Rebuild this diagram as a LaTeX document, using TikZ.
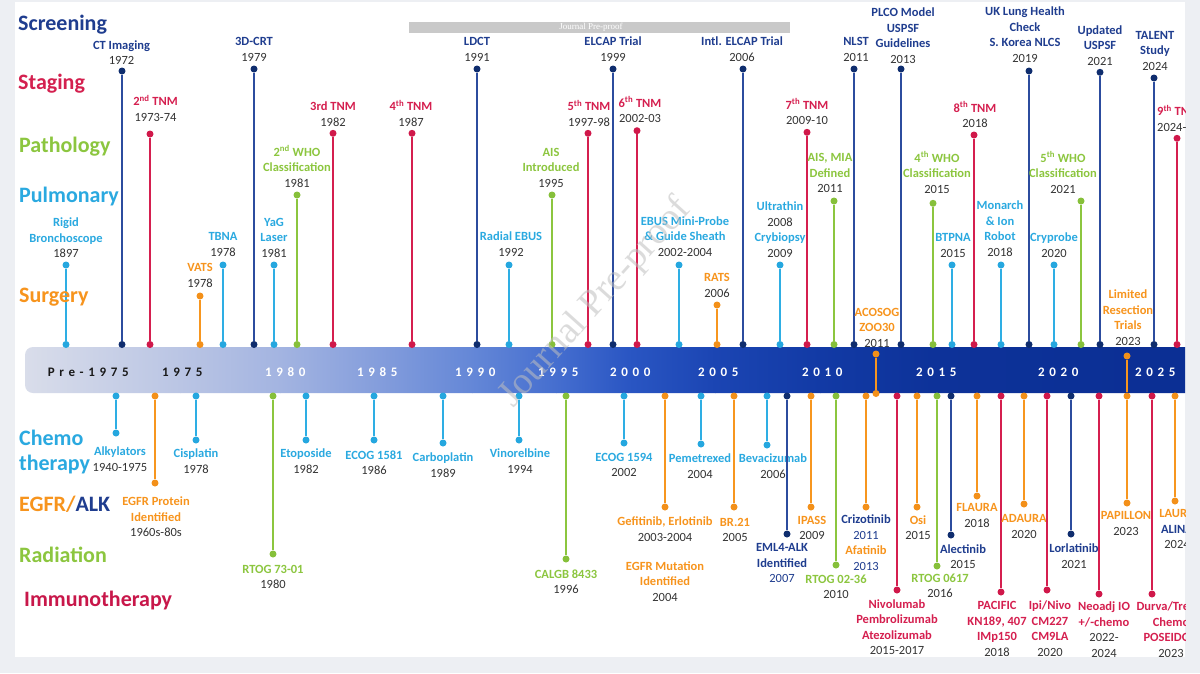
\documentclass[tikz,border=0pt]{standalone}
\usepackage{fontspec}
\setmainfont{Carlito}
\newfontfamily\axisfont{Carlito}[LetterSpace=36]
\newfontfamily\wmfont{Liberation Serif}
\definecolor{bgout}{HTML}{EDEFF3}
\definecolor{yrc}{HTML}{333333}
\definecolor{cNt}{HTML}{1F3D8F}\definecolor{cNl}{HTML}{2C4C9E}\definecolor{cNd}{HTML}{0F2D6E}
\definecolor{cRt}{HTML}{D51F4F}\definecolor{cRl}{HTML}{D51F4F}\definecolor{cRd}{HTML}{D0184A}
\definecolor{cGt}{HTML}{8CC63F}\definecolor{cGl}{HTML}{8CC63F}\definecolor{cGd}{HTML}{86C03A}
\definecolor{cCt}{HTML}{2AA9E0}\definecolor{cCl}{HTML}{2EAEE4}\definecolor{cCd}{HTML}{25A7DF}
\definecolor{cOt}{HTML}{F7941D}\definecolor{cOl}{HTML}{F7961F}\definecolor{cOd}{HTML}{F39019}
\definecolor{catR}{HTML}{D4204F}\definecolor{catI}{HTML}{C8174A}
\definecolor{b0}{HTML}{D9DDEA}\definecolor{b1}{HTML}{BAC5E4}\definecolor{b2}{HTML}{A3B4E1}
\definecolor{b3}{HTML}{859EDC}\definecolor{b4}{HTML}{6487D7}\definecolor{b5}{HTML}{456ECF}
\definecolor{b6}{HTML}{2A56C3}\definecolor{b7}{HTML}{1B45B3}\definecolor{b8}{HTML}{123AA5}
\definecolor{b9}{HTML}{0D3299}\definecolor{b10}{HTML}{0B2E93}
\newcommand\yrs[1]{{\mdseries\color{yrc}#1}}
\newcommand\yrn[1]{{\mdseries\color{cNt}#1}}
\newcommand\topev[7]{%
  \node[dotn,fill=c#4d] (#1a) at (#2,#3) {};
  \node[dotn,fill=c#4d] (#1b) at (#2,344.5) {};
  \draw[stemln,draw=c#4l] (#1a) -- (#1b);
  \node[lbl,text=c#4t,anchor=south] (#1l) at (#5,#6+4) {#7};}
\newcommand\botev[7]{%
  \node[dotn,fill=c#4d] (#1a) at (#2,396) {};
  \node[dotn,fill=c#4d] (#1b) at (#2,#3) {};
  \draw[stemln,draw=c#4l] (#1a) -- (#1b);
  \node[lbl,text=c#4t,anchor=north] (#1l) at (#5,#6-4.7) {#7};}
\begin{document}
\begin{tikzpicture}[x=1pt,y=-1pt,
  dotn/.style={circle,inner sep=0pt,minimum size=7pt,draw=none},
  stemln/.style={line width=2pt},
  lbl/.style={font=\fontsize{12.5}{15.5}\selectfont\bfseries,align=center,inner sep=0pt},
  cat/.style={font=\fontsize{22}{26}\selectfont\bfseries,anchor=base west,inner sep=0pt},
  axy/.style={font=\axisfont\bfseries\fontsize{13}{15}\selectfont,anchor=base,inner sep=0pt}]
\useasboundingbox (0,0) rectangle (1200,673);
\fill[bgout] (0,0) rectangle (1200,673);
\fill[white] (15,2) rectangle (1185,657);
\begin{scope}
\clip (15,2) rectangle (1185,657);
% axis bar
\begin{scope}
\clip[rounded corners=8pt] (25,347) rectangle (1220,393);
\shade[left color=b0,right color=b1] (24,347) rectangle (180.5,393);
\shade[left color=b1,right color=b2] (180,347) rectangle (280.5,393);
\shade[left color=b2,right color=b3] (280,347) rectangle (375.5,393);
\shade[left color=b3,right color=b4] (375,347) rectangle (472.5,393);
\shade[left color=b4,right color=b5] (472,347) rectangle (556.5,393);
\shade[left color=b5,right color=b6] (556,347) rectangle (628.5,393);
\shade[left color=b6,right color=b7] (628,347) rectangle (715.5,393);
\shade[left color=b7,right color=b8] (715,347) rectangle (820.5,393);
\shade[left color=b8,right color=b9] (820,347) rectangle (934.5,393);
\shade[left color=b9,right color=b10] (934,347) rectangle (1221,393);
\end{scope}
\node[axy,text=black!90] (y0) at (88.3,376.5) {Pre-1975};
\node[axy,text=black!90] (y1) at (182.3,376.5) {1975};
\node[axy,text=white] (y2) at (285.3,376.5) {1980};
\node[axy,text=white] (y3) at (377.3,376.5) {1985};
\node[axy,text=white] (y4) at (475.3,376.5) {1990};
\node[axy,text=white] (y5) at (558.3,376.5) {1995};
\node[axy,text=white] (y6) at (630.3,376.5) {2000};
\node[axy,text=white] (y7) at (718.3,376.5) {2005};
\node[axy,text=white] (y8) at (822.3,376.5) {2010};
\node[axy,text=white] (y9) at (936.3,376.5) {2015};
\node[axy,text=white] (y10) at (1058.3,376.5) {2020};
\node[axy,text=white] (y11) at (1155.3,376.5) {2025};
% top events
\topev{t1}{66}{265}{C}{66}{254}{Rigid\\Bronchoscope\\\yrs{1897}}
\topev{t2}{122}{71}{N}{121.5}{61}{CT Imaging\\\yrs{1972}}
\topev{t3}{150}{134}{R}{155.5}{117.3}{2\textsuperscript{nd} TNM\\\yrs{1973-74}}
\topev{t4}{200}{296}{O}{200}{283.3}{VATS\\\yrs{1978}}
\topev{t5}{223}{265}{C}{223}{252.3}{TBNA\\\yrs{1978}}
\topev{t6}{254}{69}{N}{254}{57.3}{3D-CRT\\\yrs{1979}}
\topev{t7}{274}{265}{C}{274}{253.3}{YaG\\Laser\\\yrs{1981}}
\topev{t8}{297}{195}{G}{297}{183.3}{2\textsuperscript{nd} WHO\\Classification\\\yrs{1981}}
\topev{t9}{333}{133.3}{R}{333}{122.3}{3rd TNM\\\yrs{1982}}
\topev{t10}{412}{133.3}{R}{411}{122.3}{4\textsuperscript{th} TNM\\\yrs{1987}}
\topev{t11}{477}{69}{N}{477}{57.3}{LDCT\\\yrs{1991}}
\topev{t12}{509}{265}{C}{511}{252.3}{Radial EBUS\\\yrs{1992}}
\topev{t13}{552}{195}{G}{551}{183.3}{AIS\\Introduced\\\yrs{1995}}
\topev{t14}{588}{133.3}{R}{589}{122.3}{5\textsuperscript{th} TNM\\\yrs{1997-98}}
\topev{t15}{613}{69}{N}{613}{57.3}{ELCAP Trial\\\yrs{1999}}
\topev{t16}{637}{130.7}{R}{640}{119}{6\textsuperscript{th} TNM\\\yrs{2002-03}}
\topev{t17}{679}{265}{C}{685}{252.3}{EBUS Mini-Probe\\\& Guide Sheath\\\yrs{2002-2004}}
\topev{t18}{717}{305}{O}{717}{293.3}{RATS\\\yrs{2006}}
\topev{t19}{743}{69}{N}{742}{57.3}{Intl. ELCAP Trial\\\yrs{2006}}
\topev{t20}{780}{265}{C}{780}{253.3}{Ultrathin\\\yrs{2008}\\Crybiopsy\\\yrs{2009}}
\topev{t21}{807}{132.3}{R}{807}{121}{7\textsuperscript{th} TNM\\\yrs{2009-10}}
\topev{t22}{834}{201}{G}{830}{189}{AIS, MIA\\Defined\\\yrs{2011}}
\topev{t23}{854}{69}{N}{856}{57.3}{NLST\\\yrs{2011}}
\topev{t24}{901}{69}{N}{903}{59.3}{PLCO Model\\USPSF\\Guidelines\\\yrs{2013}}
\topev{t25}{933}{203.3}{G}{937}{189.3}{4\textsuperscript{th} WHO\\Classification\\\yrs{2015}}
\topev{t26}{952}{265}{C}{953}{253.3}{BTPNA\\\yrs{2015}}
\topev{t27}{974}{135}{R}{975}{124}{8\textsuperscript{th} TNM\\\yrs{2018}}
\topev{t28}{1001}{265}{C}{1000}{252.3}{Monarch\\\& Ion\\Robot\\\yrs{2018}}
\topev{t29}{1029}{71}{N}{1025}{58.3}{UK Lung Health\\Check\\S. Korea NLCS\\\yrs{2019}}
\topev{t30}{1054}{265}{C}{1054}{253.3}{Cryprobe\\\yrs{2020}}
\topev{t31}{1081}{201}{G}{1063}{189.3}{5\textsuperscript{th} WHO\\Classification\\\yrs{2021}}
\topev{t32}{1100}{72.3}{N}{1100}{61.7}{Updated\\USPSF\\\yrs{2021}}
\topev{t33}{1154}{78}{N}{1155}{66.7}{TALENT\\Study\\\yrs{2024}}
\node[dotn,fill=cRd] (t34a) at (1177,138.3) {};
\node[dotn,fill=cRd] (t34b) at (1177,344.5) {};
\draw[stemln,draw=cRl] (t34a) -- (t34b);
\node[lbl,text=cRt,align=left,anchor=south west] (t34l) at (1157,131.7) {9\textsuperscript{th} TNM\\\yrs{2024-}};
% ACOSOG
\node[dotn,fill=cOd] (acA) at (876,354) {};
\node[dotn,fill=cOd] (acB) at (876,393.5) {};
\draw[stemln,draw=cOl] (acA) -- (acB);
\node[lbl,text=cOt,anchor=south] (acL) at (877,347.3) {ACOSOG\\ZOO30\\\yrs{2011}};
% Limited resection / PAPILLON
\node[dotn,fill=cOd] (lrA) at (1127,356) {};
\node[dotn,fill=cOd] (lrB) at (1127,396) {};
\node[dotn,fill=cOd] (lrC) at (1127,503) {};
\draw[stemln,draw=cOl] (lrA) -- (lrB);
\draw[stemln,draw=cOl] (lrB) -- (lrC);
\node[lbl,text=cOt,anchor=south] (lrL) at (1128,345.7) {Limited\\Resection\\Trials\\\yrs{2023}};
\node[lbl,text=cOt,anchor=north] (papL) at (1126,511.3) {PAPILLON\\\yrs{2023}};
% bottom events
\botev{b1}{116}{433}{C}{120}{451.7}{Alkylators\\\yrs{1940-1975}}
\botev{b2}{155}{483}{O}{156}{501.7}{EGFR Protein\\Identified\\\yrs{1960s-80s}}
\botev{b3}{196}{440}{C}{196}{453.3}{Cisplatin\\\yrs{1978}}
\botev{b4}{273}{554}{G}{273}{569.3}{RTOG 73-01\\\yrs{1980}}
\botev{b5}{306}{440}{C}{306}{453.7}{Etoposide\\\yrs{1982}}
\botev{b6}{374}{440}{C}{374}{455}{ECOG 1581\\\yrs{1986}}
\botev{b7}{443}{443}{C}{443}{457.7}{Carboplatin\\\yrs{1989}}
\botev{b8}{519}{440}{C}{520}{453.7}{Vinorelbine\\\yrs{1994}}
\botev{b9}{566}{559}{G}{566}{574.3}{CALGB 8433\\\yrs{1996}}
\botev{b10}{624}{443}{C}{624}{457.7}{ECOG 1594\\\yrs{2002}}
\botev{b11}{665}{507}{O}{665}{521.7}{Gefitinib, Erlotinib\\\yrs{2003-2004}}
\node[lbl,text=cOt,anchor=north] (egfrm) at (665,561.3) {EGFR Mutation\\Identified\\\yrs{2004}};
\botev{b12}{701}{444}{C}{700}{458.3}{Pemetrexed\\\yrs{2004}}
\botev{b13}{734}{507}{O}{735}{522.3}{BR.21\\\yrs{2005}}
\botev{b14}{767}{445}{C}{773}{458.3}{Bevacizumab\\\yrs{2006}}
\botev{b15}{787}{534}{N}{782}{548.3}{EML4-ALK\\Identified\\\yrn{2007}}
\botev{b16}{811}{507}{O}{812}{520.7}{IPASS\\\yrs{2009}}
\botev{b17}{836}{565}{G}{836}{579}{RTOG 02-36\\\yrs{2010}}
\botev{b18}{866}{507}{O}{866}{519.3}{{\color{cNt}Crizotinib}\\\yrn{2011}\\Afatinib\\\yrn{2013}}
\botev{b19}{897}{590}{R}{897}{604}{Nivolumab\\Pembrolizumab\\Atezolizumab\\\yrs{2015-2017}}
\botev{b20}{917}{507}{O}{918}{520}{Osi\\\yrs{2015}}
\botev{b21}{937}{566}{G}{940}{578.3}{RTOG 0617\\\yrs{2016}}
\botev{b22}{951}{535}{N}{963}{549}{Alectinib\\\yrs{2015}}
\botev{b23}{977}{496}{O}{977}{508.3}{FLAURA\\\yrs{2018}}
\botev{b24}{1001}{592}{R}{997}{606}{PACIFIC\\KN189, 407\\IMp150\\\yrs{2018}}
\botev{b25}{1024}{504}{O}{1024}{519.3}{ADAURA\\\yrs{2020}}
\botev{b26}{1047}{590}{R}{1050}{605.7}{Ipi/Nivo\\CM227\\CM9LA\\\yrs{2020}}
\botev{b27}{1071}{534}{N}{1074}{548.3}{Lorlatinib\\\yrs{2021}}
\botev{b28}{1099}{594}{R}{1104}{606.7}{Neoadj IO\\+/-chemo\\\yrs{2022-}\\\yrs{2024}}
\botev{b30}{1152}{594}{R}{1171}{606.7}{Durva/Treme\\Chemo\\POSEIDON\\\yrs{2023}}
\botev{b31}{1175}{501}{O}{1177}{514}{LAURA\\{\color{cNt}ALINA}\\\yrs{2024}}
% category labels
\node[cat,text=cNt] (cs) at (18,30) {Screening};
\node[cat,text=catR] (cst) at (18,89) {Staging};
\node[cat,text=cGt] (cp) at (19,152) {Pathology};
\node[cat,text=cCt] (cpu) at (19,202) {Pulmonary};
\node[cat,text=cOt] (csu) at (19,302) {Surgery};
\node[cat,text=cCt] (cch) at (19,445) {Chemo};
\node[cat,text=cCt] (cth) at (19,470) {therapy};
\node[cat] (ceg) at (19,511.7) {{\color{cOt}EGFR/}{\color{cNt}ALK}};
\node[cat,text=cGt] (cra) at (19,562.7) {Radiation};
\node[cat,text=catI] (cim) at (24,606) {Immunotherapy};
% journal pre-proof marks
\node[fill=black!21,minimum width=381pt,minimum height=11pt,inner sep=0pt] (jbar) at (599.5,27.5) {};
\node[text=white,font=\wmfont\fontsize{9}{10}\selectfont,inner sep=0pt] (jtxt) at (591,27.5) {Journal Pre-proof};
\node[rotate=48,text=black!25,opacity=0.55,font=\wmfont\fontsize{38}{40}\selectfont,inner sep=0pt] (wm) at (596,303) {Journal Pre-proof};
\end{scope}
\end{tikzpicture}
\end{document}
